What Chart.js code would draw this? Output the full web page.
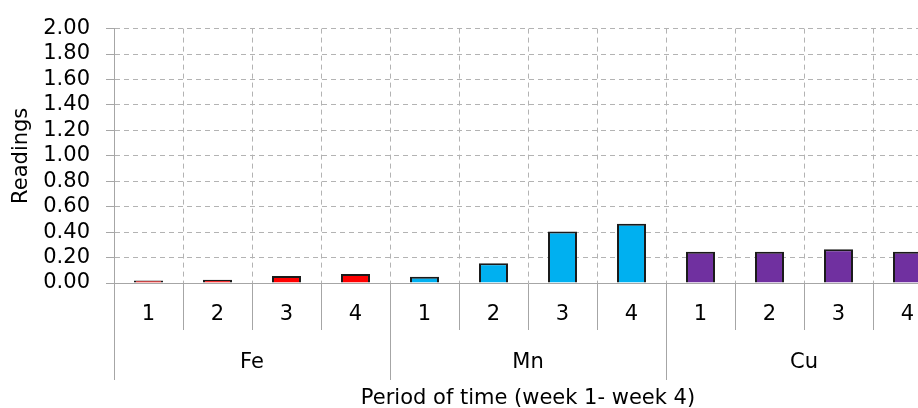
<!DOCTYPE html>
<html>
<head>
<meta charset="utf-8">
<script src="https://cdn.jsdelivr.net/npm/chart.js@4"></script>
<style>
  html, body { margin: 0; padding: 0; background: #fff; overflow: hidden; }
  #wrap { width: 942px; height: 408px; }
</style>
</head>
<body>
<div id="wrap"><canvas id="myChart" width="942" height="408"></canvas></div>
<script>
// data
const weekLabels = ['1', '2', '3', '4', '1', '2', '3', '4', '1', '2', '3', '4'];
const groupLabels = ['Fe', 'Mn', 'Cu'];
const feValues = [0.02, 0.025, 0.055, 0.07];
const mnValues = [0.05, 0.155, 0.405, 0.465];
const cuValues = [0.245, 0.245, 0.265, 0.245];
const yTicks = [0, 0.2, 0.4, 0.6, 0.8, 1.0, 1.2, 1.4, 1.6, 1.8, 2.0];

const groupColors = ['#FF0000', '#00B0F0', '#7030A0'];
const axisGray = '#a6a6a6';
const gridGray = '#b3b3b3';
const font = { family: 'DejaVu Sans', size: 21 };

const values = feValues.concat(mnValues, cuValues);
const colors = [];
[feValues, mnValues, cuValues].forEach((arr, g) => {
  arr.forEach(() => colors.push(groupColors[g]));
});

const ctx = document.getElementById('myChart').getContext('2d');
const myChart = new Chart(ctx, {
  type: 'bar',
  data: {
    labels: weekLabels,
    datasets: [{
      label: 'Readings',
      data: values,
      backgroundColor: colors,
      borderColor: '#1a1a1a',
      borderWidth: 2,
      categoryPercentage: 1,
      barPercentage: 0.42
    }]
  },
  options: {
    responsive: false,
    animation: false,
    layout: { padding: { top: 23, right: 0, bottom: 0, left: 0 } },
    plugins: {
      legend: { display: false },
      tooltip: { enabled: false }
    },
    scales: {
      x: {
        type: 'category',
        position: 'bottom',
        offset: true,
        grid: {
          offset: true,
          color: gridGray,
          tickColor: axisGray,
          tickLength: 47,
          lineWidth: 1
        },
        border: { color: axisGray, dash: [5, 4] },
        ticks: { font: font, color: '#000', padding: -28, maxRotation: 0, autoSkip: false },
        afterFit: (scale) => { scale.height = 47; }
      },
      group: {
        type: 'category',
        position: 'bottom',
        labels: groupLabels,
        offset: true,
        grid: {
          offset: true,
          drawOnChartArea: false,
          tickColor: axisGray,
          tickLength: 50
        },
        border: { display: false },
        ticks: { font: font, color: '#000', padding: -30, maxRotation: 0 },
        title: {
          display: true,
          text: 'Period of time (week 1- week 4)',
          font: { family: 'DejaVu Sans', size: 21, lineHeight: 1.0 },
          color: '#000',
          padding: { top: 0, bottom: -1 }
        },
        afterFit: (scale) => { scale.height = 78; }
      },
      y: {
        min: 0,
        max: 2,
        afterBuildTicks: (scale) => { scale.ticks = yTicks.map(v => ({ value: v })); },
        ticks: {
          font: font,
          color: '#000',
          padding: 16,
          autoSkip: false,
          callback: (v) => Number(v).toFixed(2)
        },
        grid: {
          color: gridGray,
          tickColor: axisGray,
          tickLength: 8
        },
        border: { color: axisGray, dash: [5, 4] },
        title: {
          display: true,
          text: 'Readings',
          font: font,
          color: '#000',
          padding: { top: 9, bottom: 0 }
        },
        afterFit: (scale) => { scale.width = 114; }
      }
    }
  }
});
</script>
</body>
</html>
